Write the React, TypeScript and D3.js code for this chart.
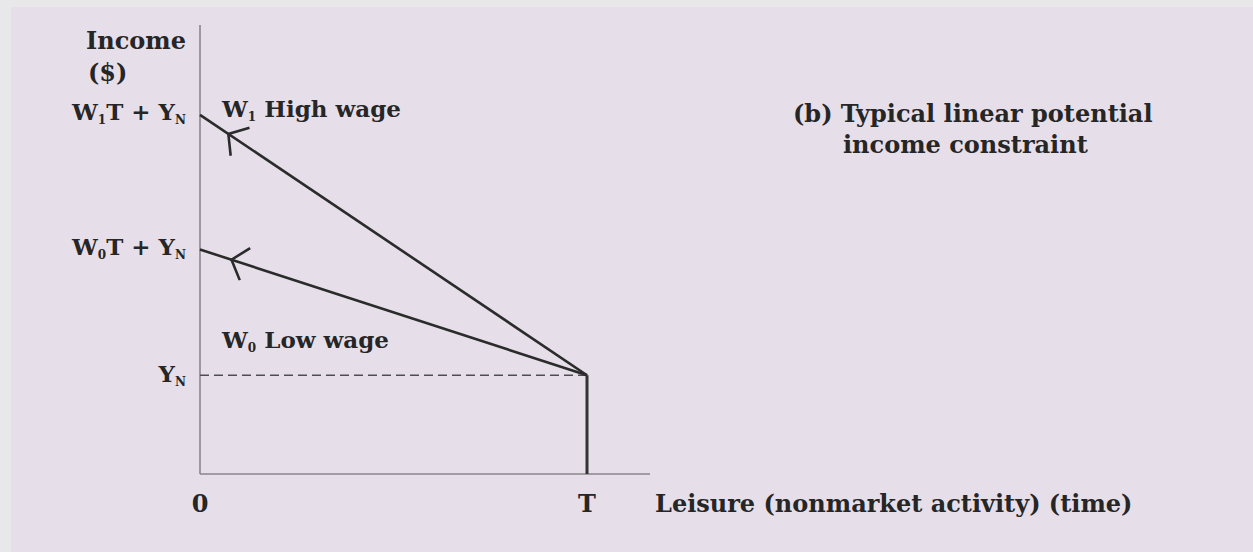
import React from "react";
import * as d3 from "d3";

// Abstract model values (income in arbitrary units, leisure in hours share)
const leisureDomain = [0, 100];
const incomeDomain = [0, 100];
const T = 86; // total time endowment
const Y_N = 22; // non-labour income
const lowWageIncome = 50; // W0T + YN
const highWageIncome = 80; // W1T + YN

const constraints = [
  { name: "low", start: [0, lowWageIncome], end: [T, Y_N], arrowAt: 7 },
  { name: "high", start: [0, highWageIncome], end: [T, Y_N], arrowAt: 6.3 },
];

const FONT = "'DejaVu Serif', serif";
const TEXT = "#262626";

export default function App() {
  const W = 1253, H = 552;
  const x = d3.scaleLinear().domain(leisureDomain).range([200, 650]);
  const y = d3.scaleLinear().domain(incomeDomain).range([474, 25]);
  const line = d3.line<number[]>().x((d) => x(d[0])).y((d) => y(d[1]));

  const arrows = constraints.map((c) => {
    const px = x(c.arrowAt);
    const t = c.arrowAt / (c.end[0] - c.start[0]);
    const py = y(c.start[1] + (c.end[1] - c.start[1]) * t);
    const ang = Math.atan2(y(c.end[1]) - y(c.start[1]), x(c.end[0]) - x(c.start[0]));
    const L = 22, spread = (50 * Math.PI) / 180;
    const a1 = [px + L * Math.cos(ang - spread), py + L * Math.sin(ang - spread)];
    const a2 = [px + L * Math.cos(ang + spread), py + L * Math.sin(ang + spread)];
    return `M${a1[0]},${a1[1]}L${px},${py}L${a2[0]},${a2[1]}`;
  });

  const fs = 24;
  const sub = 12;
  return (
    <svg width={W} height={H} style={{ position: "absolute", left: 0, top: 0 }}>
      <rect x={0} y={0} width={W} height={H} fill="#e8e7e9" />
      <rect x={11} y={7} width={W - 11} height={H - 7} fill="#e6dfea" />
      {/* axes */}
      <line x1={x(0)} x2={x(0)} y1={y(100)} y2={y(0)} stroke="#8a868c" strokeWidth={1.6} />
      <line x1={x(0)} x2={x(100)} y1={y(0)} y2={y(0)} stroke="#8a868c" strokeWidth={1.6} />
      {/* dashed Y_N */}
      <line x1={x(0)} x2={x(T)} y1={y(Y_N)} y2={y(Y_N)} stroke="#4f4c54" strokeWidth={1.5} strokeDasharray="9,5" />
      {/* vertical at T */}
      <line x1={x(T)} x2={x(T)} y1={y(Y_N)} y2={y(0)} stroke="#333" strokeWidth={3} />
      {constraints.map((c) => (
        <path key={c.name} d={line([c.start, c.end]) || ""} fill="none" stroke="#2b2b2b" strokeWidth={2.6} />
      ))}
      {arrows.map((d, i) => (
        <path key={i} d={d} fill="none" stroke="#2b2b2b" strokeWidth={2.6} />
      ))}
      <g fontFamily={FONT} fontWeight="bold" fill={TEXT} fontSize={fs}>
        <text x={86} y={49}>Income</text>
        <text x={88} y={81}>($)</text>
        <text x={186} y={y(highWageIncome) + 5} textAnchor="end" fontSize={23}>
          W<tspan fontSize={sub} dy={4}>1</tspan><tspan dy={-4}>T + Y</tspan><tspan fontSize={sub} dy={4}>N</tspan>
        </text>
        <text x={222} y={117} fontSize={23}>
          W<tspan fontSize={sub} dy={4}>1</tspan><tspan dy={-4}> High wage</tspan>
        </text>
        <text x={186} y={y(lowWageIncome) + 5} textAnchor="end" fontSize={23}>
          W<tspan fontSize={sub} dy={4}>0</tspan><tspan dy={-4}>T + Y</tspan><tspan fontSize={sub} dy={4}>N</tspan>
        </text>
        <text x={222} y={348} fontSize={23}>
          W<tspan fontSize={sub} dy={4}>0</tspan><tspan dy={-4}> Low wage</tspan>
        </text>
        <text x={186} y={y(Y_N) + 7} textAnchor="end" fontSize={23}>
          Y<tspan fontSize={sub} dy={4}>N</tspan>
        </text>
        <text x={x(0)} y={512} textAnchor="middle">0</text>
        <text x={x(T)} y={512} textAnchor="middle">T</text>
        <text x={655} y={512}>Leisure (nonmarket activity) (time)</text>
        <text x={793} y={122}>(b) Typical linear potential</text>
        <text x={843} y={153}>income constraint</text>
      </g>
    </svg>
  );
}
